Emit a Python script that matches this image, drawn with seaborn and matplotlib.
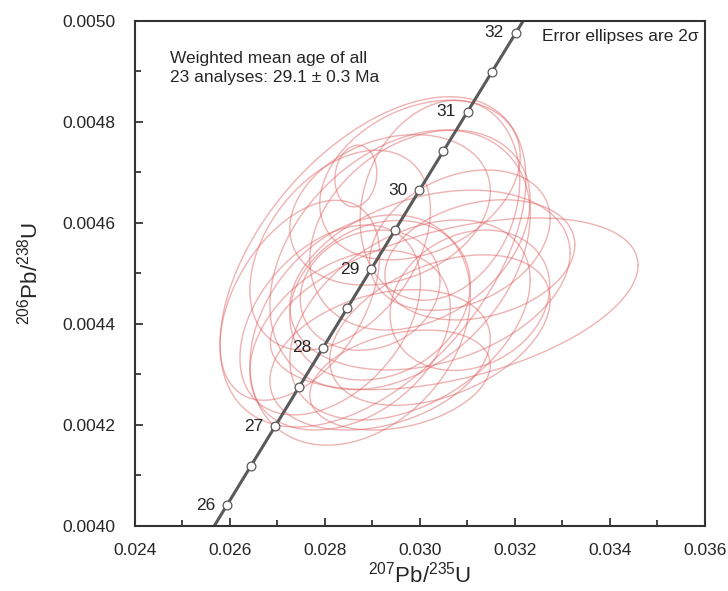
import numpy as np
import pandas as pd
import matplotlib
matplotlib.use("Agg")
import matplotlib.pyplot as plt
import seaborn as sns

# analyses: centre (207Pb/235U, 206Pb/238U), 2-sigma half widths, error correlation
pb207_u235 = [0.03072, 0.02901, 0.02865, 0.02747, 0.02874, 0.03000, 0.02958, 0.03021,
              0.02916, 0.03042, 0.02979, 0.02853, 0.03084, 0.02937, 0.02811, 0.03126,
              0.02916, 0.03000, 0.02895, 0.03042, 0.02832, 0.02958, 0.03105]
pb206_u238 = [0.004440, 0.004523, 0.004693, 0.004447, 0.004388, 0.004586, 0.004527, 0.004487,
              0.004447, 0.004645, 0.004408, 0.004368, 0.004566, 0.004626, 0.004408, 0.004527,
              0.004329, 0.004685, 0.004467, 0.004388, 0.004546, 0.004289, 0.004447]
err_x = [0.00387, 0.00322, 0.00044, 0.00168, 0.00232, 0.00232, 0.00274, 0.00295,
         0.00190, 0.00168, 0.00253, 0.00211, 0.00190, 0.00211, 0.00190, 0.00200,
         0.00232, 0.00211, 0.00147, 0.00232, 0.00190, 0.00190, 0.00168]
err_y = [0.000170, 0.000327, 0.000061, 0.000198, 0.000228, 0.000198, 0.000257, 0.000178,
         0.000158, 0.000198, 0.000198, 0.000178, 0.000139, 0.000149, 0.000188, 0.000119,
         0.000139, 0.000158, 0.000119, 0.000149, 0.000198, 0.000099, 0.000139]
rho = [0.45, 0.5, 0.1, 0.45, 0.3, 0.3, 0.35, 0.3, 0.2, 0.2, 0.4, 0.35,
       0.3, 0.25, 0.4, 0.25, 0.3, 0.3, 0.15, 0.4, 0.4, 0.3, 0.2]

# concordia age marks (Ma)
marker_ages = [26, 26.5, 27, 27.5, 28, 28.5, 29, 29.5, 30, 30.5, 31, 31.5, 32]
label_ages = [26, 27, 28, 29, 30, 31, 32]
lam238 = 1.55125e-10
lam235 = 9.8485e-10


def concordia(age_ma):
    t = np.asarray(age_ma, dtype=float) * 1e6
    return np.exp(lam235 * t) - 1, np.exp(lam238 * t) - 1


# ellipse outlines
theta = np.linspace(0, 2 * np.pi, 240)
rows = []
for i in range(len(pb207_u235)):
    sx, sy, r = err_x[i], err_y[i], rho[i]
    cov = np.array([[sx * sx, r * sx * sy], [r * sx * sy, sy * sy]])
    L = np.linalg.cholesky(cov)
    pts = L @ np.vstack([np.cos(theta), np.sin(theta)])
    for k in range(len(theta)):
        rows.append((i, k, pb207_u235[i] + pts[0, k], pb206_u238[i] + pts[1, k]))
ell = pd.DataFrame(rows, columns=["id", "k", "x", "y"])

curve_age = np.linspace(25.5, 32.6, 300)
cx, cy = concordia(curve_age)
curve = pd.DataFrame({"x": cx, "y": cy})
mx, my = concordia(marker_ages)
marks = pd.DataFrame({"x": mx, "y": my})

sns.set_style("ticks")
plt.rcParams["font.family"] = ["Liberation Sans", "DejaVu Sans"]
plt.rcParams["mathtext.default"] = "regular"

fig = plt.figure(figsize=(7.28, 5.91), dpi=100)
ax = fig.add_axes([0.1854, 0.110, 0.7830, 0.8545])

sns.lineplot(data=ell, x="x", y="y", units="id", estimator=None, sort=False,
             color="#e06666", alpha=0.5, linewidth=1.0, ax=ax)
sns.lineplot(data=curve, x="x", y="y", sort=False, color="#5a5a5a",
             linewidth=2.2, ax=ax)
sns.scatterplot(data=marks, x="x", y="y", s=40, color="white",
                edgecolor="#5a5a5a", linewidth=0.9, zorder=5, ax=ax)

lx, ly = concordia(label_ages)
for a, x, y in zip(label_ages, lx, ly):
    ax.text(x - 0.00025, y, str(a), ha="right", va="center", fontsize=12.5)

ax.set_xlim(0.024, 0.036)
ax.set_ylim(0.0040, 0.0050)
ax.set_xticks(np.arange(0.024, 0.0361, 0.002))
ax.set_xticks(np.arange(0.025, 0.036, 0.002), minor=True)
ax.set_yticks(np.arange(0.0040, 0.00501, 0.0002))
ax.set_yticks(np.arange(0.0041, 0.0050, 0.0002), minor=True)
ax.xaxis.set_major_formatter(matplotlib.ticker.FormatStrFormatter("%.3f"))
ax.yaxis.set_major_formatter(matplotlib.ticker.FormatStrFormatter("%.4f"))
ax.tick_params(which="both", direction="in", width=1.2, labelsize=12.5)
ax.tick_params(axis="x", pad=12)
ax.tick_params(axis="y", pad=14)
ax.tick_params(which="major", length=6)
ax.tick_params(which="minor", length=4)
for s in ax.spines.values():
    s.set_visible(True)
    s.set_linewidth(1.5)
    s.set_color("#333333")

ax.set_xlabel("$^{207}$Pb/$^{235}$U", fontsize=16, labelpad=3)
ax.set_ylabel("$^{206}$Pb/$^{238}$U", fontsize=16, labelpad=14)

ax.text(0.062, 0.94, "Weighted mean age of all\n23 analyses: 29.1 \u00b1 0.3 Ma",
        transform=ax.transAxes, ha="left", va="top", fontsize=12.5, linespacing=1.3)
ax.text(0.988, 0.985, "Error ellipses are 2\u03c3", transform=ax.transAxes,
        ha="right", va="top", fontsize=12.5)

fig.savefig("out.png", dpi=100)
